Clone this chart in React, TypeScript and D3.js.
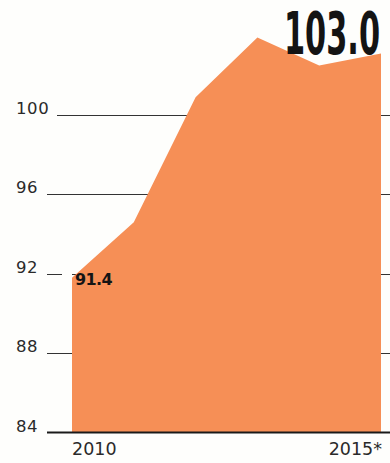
import React, { useEffect, useRef } from 'react';
import * as d3 from 'd3';

const years = [2010, 2011, 2012, 2013, 2014, 2015];
const values = [91.8, 94.6, 100.9, 103.9, 102.5, 103.1];
const yTicks = [84, 88, 92, 96, 100];
const xTickLabels = ['2010', '2015*'];
const firstLabel = '91.4';
const lastLabel = '103.0';

const App = () => {
  const chartRef = useRef<SVGSVGElement>(null);

  useEffect(() => {
    const svg = d3.select(chartRef.current);
    svg.selectAll('*').remove();

    const width = 390;
    const height = 463;
    const labelX = 16;

    const x = d3.scaleLinear().domain([2010, 2015]).range([72, 381]);
    const y = d3.scaleLinear().domain([84, 100]).range([432.5, 115]);
    const crisp = (v: number) => Math.round(v) + 0.5;

    svg.append('rect')
      .attr('width', width)
      .attr('height', height)
      .attr('fill', '#fefefc');

    const data = years.map((yr, i) => ({ year: yr, value: values[i] }));
    const x0 = x(years[0]);

    // gridlines behind the area, visible left and right of it
    const grid = svg.append('g');
    yTicks.forEach(t => {
      if (t === 84) return;
      const start = labelX + String(t).length * 10 + 11;
      grid.append('line')
        .attr('x1', start)
        .attr('x2', width)
        .attr('y1', crisp(y(t)))
        .attr('y2', crisp(y(t)))
        .attr('stroke', '#333')
        .attr('stroke-width', 1.2);
    });

    const area = d3.area<{ year: number; value: number }>()
      .x(d => x(d.year))
      .y0(y(84))
      .y1(d => y(d.value));

    svg.append('path')
      .datum(data)
      .attr('d', area)
      .attr('fill', '#f68f56');

    // gap in front of the first value label
    const gapY = crisp(y(92));
    svg.append('rect')
      .attr('x', x0 - 10)
      .attr('y', gapY - 2)
      .attr('width', 10)
      .attr('height', 4)
      .attr('fill', '#fefefc');

    // baseline
    svg.append('line')
      .attr('x1', labelX + 2 * 10 + 11)
      .attr('x2', width)
      .attr('y1', y(84))
      .attr('y2', y(84))
      .attr('stroke', '#1a1a1a')
      .attr('stroke-width', 2);

    // y labels
    svg.append('g')
      .selectAll('text')
      .data(yTicks)
      .join('text')
        .attr('x', labelX)
        .attr('y', d => y(d) - 1)
        .attr('font-family', 'DejaVu Sans')
        .attr('font-size', 16.5)
        .attr('letter-spacing', 0.6)
        .attr('fill', '#2a2a2a')
        .text(d => d);

    // x labels
    svg.append('text')
      .attr('x', x(years[0]))
      .attr('y', 455)
      .attr('font-family', 'DejaVu Sans')
      .attr('font-size', 17.5)
      .attr('fill', '#2a2a2a')
      .text(xTickLabels[0]);

    svg.append('text')
      .attr('x', x(years[years.length - 1]) + 1)
      .attr('y', 455)
      .attr('text-anchor', 'end')
      .attr('font-family', 'DejaVu Sans')
      .attr('font-size', 17.5)
      .attr('fill', '#2a2a2a')
      .text(xTickLabels[1]);

    // value labels
    svg.append('text')
      .attr('x', x0 + 3)
      .attr('y', 285)
      .attr('font-family', 'DejaVu Sans')
      .attr('font-weight', 'bold')
      .attr('font-size', 16)
      .attr('letter-spacing', -0.6)
      .attr('fill', '#141414')
      .text(firstLabel);

    svg.append('text')
      .attr('x', x(years[years.length - 1]) - 1)
      .attr('y', 54)
      .attr('text-anchor', 'end')
      .attr('font-family', 'Liberation Sans Narrow, DejaVu Sans Condensed, Liberation Sans')
      .attr('font-weight', 'bold')
      .attr('font-size', 58)
      .attr('textLength', 96)
      .attr('lengthAdjust', 'spacingAndGlyphs')
      .attr('fill', '#141414')
      .text(lastLabel);
  }, []);

  return (
    <svg
      ref={chartRef}
      width="390"
      height="463"
      style={{ position: 'absolute', left: 0, top: 0 }}
    ></svg>
  );
};

export default App;
